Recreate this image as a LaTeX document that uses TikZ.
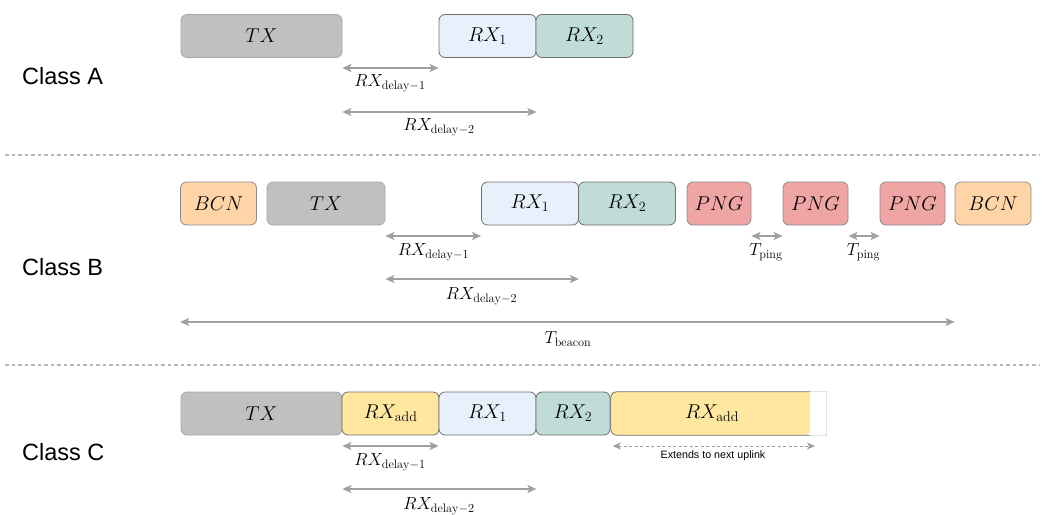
\RequirePackage{fix-cm}
\documentclass[tikz,border=0pt]{standalone}
\usepackage{fontspec}
\newfontfamily\labelfont{Liberation Sans}
\usetikzlibrary{arrows.meta}
\definecolor{txc}{HTML}{C0C0C0}
\definecolor{txb}{HTML}{A8A8A8}
\definecolor{rxoc}{HTML}{E8F0FC}
\definecolor{rxtc}{HTML}{BFDCD6}
\definecolor{bcnc}{HTML}{FFD5A8}
\definecolor{pngc}{HTML}{F0A5A5}
\definecolor{addc}{HTML}{FFE7A0}
\definecolor{bordc}{HTML}{6E6E6E}
\definecolor{arrc}{HTML}{A0A0A0}
\definecolor{sepc}{HTML}{B8B8B8}
\begin{document}
\begin{tikzpicture}[x=1pt,y=-1pt,
  box/.style={rectangle, rounded corners=6pt, minimum height=43pt, inner sep=0pt,
    draw=bordc, line width=0.8pt, font=\fontsize{20}{24}\selectfont},
  txbox/.style={box, fill=txc, draw=txb},
  rxone/.style={box, fill=rxoc},
  rxtwo/.style={box, fill=rxtc},
  bcnbox/.style={box, fill=bcnc, draw=bordc!80},
  pngbox/.style={box, fill=pngc, draw=bordc!80},
  addbox/.style={box, fill=addc},
  dim/.style={draw=arrc, line width=1.4pt, {Stealth[length=9pt,width=8pt,inset=2pt]}-{Stealth[length=9pt,width=8pt,inset=2pt]}},
  dimdash/.style={draw=arrc, line width=1pt, dash pattern=on 3pt off 2.5pt, {Stealth[length=8pt,width=7pt,inset=2pt]}-{Stealth[length=8pt,width=7pt,inset=2pt]}},
  lbl/.style={inner sep=0pt, font=\fontsize{17.5}{20}\selectfont},
  cls/.style={inner sep=0pt, anchor=west, font=\labelfont\fontsize{23.5}{26}\selectfont},
  note/.style={inner sep=0pt, font=\labelfont\fontsize{10.7}{12}\selectfont},
  sep/.style={draw=sepc, line width=2.6pt, dash pattern=on 3.5pt off 3pt}
]
\useasboundingbox (0,0) rectangle (1041,514);

% separators
\coordinate (s1a) at (5,155); \coordinate (s1b) at (1040,155);
\coordinate (s2a) at (5,365); \coordinate (s2b) at (1040,365);
\draw[sep] (s1a) -- (s1b);
\draw[sep] (s2a) -- (s2b);

% ---------------- Class A
\node[cls] (clA) at (22,76) {Class A};
\node[txbox, minimum width=161pt] (atx) at (261.5,36) {$TX$};
\node[rxone, minimum width=97pt] (arx1) at (487.5,36) {$RX_1$};
\node[rxtwo, minimum width=97pt] (arx2) at (584.5,36) {$RX_2$};
\coordinate (ad1a) at (atx.east |- 0,68);
\coordinate (ad1b) at (arx1.west |- 0,68);
\draw[dim] (ad1a) -- (ad1b);
\node[lbl] (ad1l) at (390,83) {$RX_{\mathrm{delay}-1}$};
\coordinate (ad2a) at (atx.east |- 0,112);
\coordinate (ad2b) at (arx1.east |- 0,112);
\draw[dim] (ad2a) -- (ad2b);
\node[lbl] (ad2l) at (439,127) {$RX_{\mathrm{delay}-2}$};

% ---------------- Class B
\node[cls] (clB) at (22,267) {Class B};
\node[bcnbox, minimum width=76pt] (bbcn1) at (218.5,203.5) {$BCN$};
\node[txbox, minimum width=118pt] (btx) at (326,203.5) {$TX$};
\node[rxone, minimum width=97pt] (brx1) at (530,203.5) {$RX_1$};
\node[rxtwo, minimum width=97pt] (brx2) at (627,203.5) {$RX_2$};
\node[pngbox, minimum width=64pt] (bp1) at (719,203.5) {$PNG$};
\node[pngbox, minimum width=65pt] (bp2) at (815.5,203.5) {$PNG$};
\node[pngbox, minimum width=65pt] (bp3) at (912.5,203.5) {$PNG$};
\node[bcnbox, minimum width=76pt] (bbcn2) at (993,203.5) {$BCN$};
\coordinate (bd1a) at (btx.east |- 0,236);
\coordinate (bd1b) at (brx1.west |- 0,236);
\draw[dim] (bd1a) -- (bd1b);
\node[lbl] (bd1l) at (433.5,252) {$RX_{\mathrm{delay}-1}$};
\coordinate (bd2a) at (btx.east |- 0,279);
\coordinate (bd2b) at (brx1.east |- 0,279);
\draw[dim] (bd2a) -- (bd2b);
\node[lbl] (bd2l) at (481.5,296) {$RX_{\mathrm{delay}-2}$};
\coordinate (bp1a) at (bp1.east |- 0,236);
\coordinate (bp1b) at (bp2.west |- 0,236);
\draw[dim] (bp1a) -- (bp1b);
\node[lbl] (bp1l) at (766,252) {$T_{\mathrm{ping}}$};
\coordinate (bp2a) at (bp2.east |- 0,236);
\coordinate (bp2b) at (bp3.west |- 0,236);
\draw[dim] (bp2a) -- (bp2b);
\node[lbl] (bp2l) at (863.5,252) {$T_{\mathrm{ping}}$};
\coordinate (bba) at (bbcn1.west |- 0,322);
\coordinate (bbb) at (bbcn2.west |- 0,322);
\draw[dim] (bba) -- (bbb);
\node[lbl] (bbl) at (568,339) {$T_{\mathrm{beacon}}$};

% ---------------- Class C
\node[cls] (clC) at (22,452) {Class C};
\node[txbox, minimum width=161pt] (ctx) at (261.5,413.5) {$TX$};
\node[addbox, minimum width=97pt] (cadd) at (390.5,413.5) {$RX_{\mathrm{add}}$};
\node[rxone, minimum width=97pt] (crx1) at (487.5,413.5) {$RX_1$};
\node[rxtwo, minimum width=74pt] (crx2) at (573,413.5) {$RX_2$};
% open-ended additional window
\node[rectangle, inner sep=0pt, minimum height=43pt, minimum width=215pt] (cext) at (718.5,413.5) {};
\fill[addc, rounded corners=6pt] (cext.north west) -- (cext.south west) -- ([xshift=-16pt]cext.south east) [sharp corners] -- ([xshift=-16pt]cext.north east) -- cycle;
\draw[bordc, line width=0.8pt, rounded corners=6pt] ([xshift=-16pt]cext.north east) -- (cext.north west) -- (cext.south west) -- ([xshift=-16pt]cext.south east);
\draw[black!12, line width=0.8pt] ([xshift=-16pt]cext.north east) -- (cext.north east) -- (cext.south east) -- ([xshift=-16pt]cext.south east);
\node[inner sep=0pt, font=\fontsize{20}{24}\selectfont] (cextl) at (712,413.5) {$RX_{\mathrm{add}}$};
\coordinate (cd1a) at (ctx.east |- 0,446);
\coordinate (cd1b) at (crx1.west |- 0,446);
\draw[dim] (cd1a) -- (cd1b);
\node[lbl] (cd1l) at (390,462) {$RX_{\mathrm{delay}-1}$};
\coordinate (cd2a) at (ctx.east |- 0,489);
\coordinate (cd2b) at (crx1.east |- 0,489);
\draw[dim] (cd2a) -- (cd2b);
\node[lbl] (cd2l) at (439,506) {$RX_{\mathrm{delay}-2}$};
\coordinate (cea) at ([xshift=2pt]cext.west |- 0,446);
\coordinate (ceb) at (815,446);
\draw[dimdash] (cea) -- (ceb);
\node[note] (cel) at (713,456) {Extends to next uplink};
\end{tikzpicture}
\end{document}
